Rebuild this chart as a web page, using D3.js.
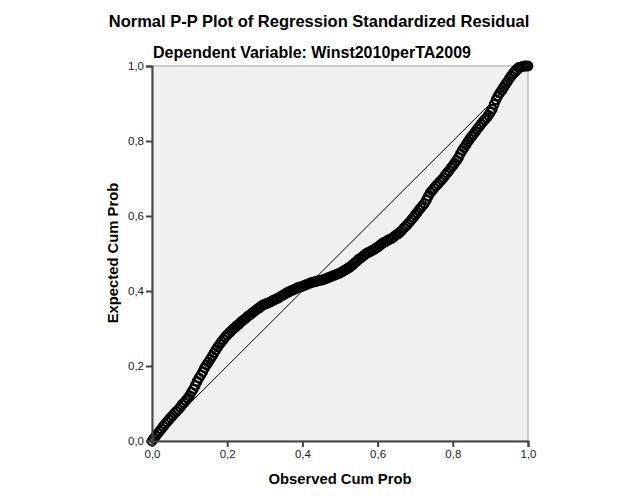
<!DOCTYPE html>
<html><head><meta charset="utf-8">
<script src="https://cdn.jsdelivr.net/npm/d3@7"></script>
<style>body{margin:0;background:#fff;} text{font-family:Arial,"Liberation Sans",sans-serif;}</style>
</head><body>
<svg id="chart" width="626" height="501"></svg>
<script>
const title = "Normal P-P Plot of Regression Standardized Residual";
const subtitle = "Dependent Variable: Winst2010perTA2009";
const xTitle = "Observed Cum Prob";
const yTitle = "Expected Cum Prob";
const tickValues = [0, 0.2, 0.4, 0.6, 0.8, 1.0];
const tickLabels = ["0,0", "0,2", "0,4", "0,6", "0,8", "1,0"];
const observed = [
0.000,0.005,0.010,0.015,0.020,0.025,0.030,0.035,0.040,0.045,
0.050,0.055,0.060,0.065,0.070,0.075,0.080,0.085,0.090,0.095,
0.100,0.105,0.110,0.115,0.120,0.125,0.130,0.135,0.140,0.145,
0.150,0.155,0.160,0.165,0.170,0.175,0.180,0.185,0.190,0.195,
0.200,0.205,0.210,0.215,0.220,0.225,0.230,0.235,0.240,0.245,
0.250,0.255,0.260,0.265,0.270,0.275,0.280,0.285,0.290,0.295,
0.300,0.305,0.310,0.315,0.320,0.325,0.330,0.335,0.340,0.345,
0.350,0.355,0.360,0.365,0.370,0.375,0.380,0.385,0.390,0.395,
0.400,0.405,0.410,0.415,0.420,0.425,0.430,0.435,0.440,0.445,
0.450,0.455,0.460,0.465,0.470,0.475,0.480,0.485,0.490,0.495,
0.500,0.505,0.510,0.515,0.520,0.525,0.530,0.535,0.540,0.545,
0.550,0.555,0.560,0.565,0.570,0.575,0.580,0.585,0.590,0.595,
0.600,0.605,0.610,0.615,0.620,0.625,0.630,0.635,0.640,0.645,
0.650,0.655,0.660,0.665,0.670,0.675,0.680,0.685,0.690,0.695,
0.700,0.705,0.710,0.715,0.720,0.725,0.730,0.735,0.740,0.745,
0.750,0.755,0.760,0.765,0.770,0.775,0.780,0.785,0.790,0.795,
0.800,0.805,0.810,0.815,0.820,0.825,0.830,0.835,0.840,0.845,
0.850,0.855,0.860,0.865,0.870,0.875,0.880,0.885,0.890,0.895,
0.900,0.905,0.910,0.915,0.920,0.925,0.930,0.935,0.940,0.945,
0.950,0.955,0.960,0.965,0.970,0.975,0.980,0.985,0.990,0.995,
1.000];
const expected = [
0.000,0.007,0.013,0.020,0.026,0.032,0.039,0.045,0.051,0.057,
0.063,0.068,0.074,0.079,0.084,0.090,0.097,0.102,0.108,0.114,
0.121,0.130,0.138,0.148,0.159,0.168,0.176,0.185,0.195,0.203,
0.210,0.218,0.226,0.235,0.243,0.251,0.258,0.265,0.271,0.278,
0.283,0.288,0.293,0.298,0.302,0.307,0.311,0.316,0.320,0.324,
0.328,0.333,0.336,0.340,0.344,0.348,0.352,0.355,0.359,0.363,
0.365,0.367,0.369,0.371,0.374,0.376,0.379,0.381,0.384,0.387,
0.390,0.393,0.396,0.398,0.401,0.403,0.405,0.408,0.410,0.411,
0.413,0.415,0.417,0.419,0.421,0.423,0.424,0.425,0.427,0.428,
0.429,0.430,0.432,0.434,0.436,0.438,0.440,0.442,0.444,0.446,
0.448,0.451,0.454,0.457,0.460,0.463,0.467,0.471,0.476,0.480,
0.485,0.488,0.492,0.496,0.500,0.503,0.505,0.508,0.510,0.514,
0.517,0.521,0.525,0.529,0.531,0.534,0.537,0.539,0.542,0.546,
0.550,0.553,0.557,0.562,0.568,0.573,0.578,0.584,0.590,0.596,
0.603,0.609,0.616,0.622,0.628,0.634,0.643,0.653,0.662,0.668,
0.674,0.680,0.685,0.691,0.696,0.702,0.709,0.715,0.721,0.728,
0.734,0.741,0.748,0.756,0.766,0.775,0.782,0.790,0.798,0.805,
0.812,0.818,0.825,0.832,0.838,0.845,0.851,0.857,0.862,0.869,
0.877,0.885,0.898,0.910,0.920,0.928,0.935,0.943,0.951,0.958,
0.966,0.973,0.980,0.986,0.991,0.996,0.997,0.999,1.000,1.000,
1.000];

const svg = d3.select("#chart");
const pLeft = 152, pRight = 528, pTop = 66, pBottom = 441;
const x = d3.scaleLinear().domain([0, 1]).range([pLeft, pRight]);
const y = d3.scaleLinear().domain([0, 1]).range([pBottom, pTop]);

svg.append("rect").attr("x", pLeft).attr("y", pTop).attr("width", pRight - pLeft).attr("height", pBottom - pTop)
  .attr("fill", "#f0f0f0").attr("stroke", "#a0a0a0").attr("stroke-width", 1);

// diagonal reference line
svg.append("line").attr("x1", x(0)).attr("y1", y(0)).attr("x2", x(1)).attr("y2", y(1))
  .attr("stroke", "#000").attr("stroke-width", 1);

// points
svg.append("g").selectAll("circle").data(observed).join("circle")
  .attr("cx", (d) => x(d)).attr("cy", (d, i) => y(expected[i]))
  .attr("r", 4.3).attr("fill", "none").attr("stroke", "#000").attr("stroke-width", 2.2);

const fmt = (d) => tickLabels[tickValues.indexOf(d)];
const xAxis = svg.append("g").attr("transform", `translate(0,${pBottom})`)
  .call(d3.axisBottom(x).tickValues(tickValues).tickFormat(fmt).tickSize(6).tickPadding(3));
const yAxis = svg.append("g").attr("transform", `translate(${pLeft},0)`)
  .call(d3.axisLeft(y).tickValues(tickValues).tickFormat(fmt).tickSize(6).tickPadding(2));
[xAxis, yAxis].forEach(a => {
  a.select(".domain").attr("stroke", "#444").attr("stroke-width", 2);
  a.selectAll(".tick line").attr("stroke", "#444").attr("stroke-width", 2);
  a.selectAll(".tick text").attr("font-size", 11.5).attr("fill", "#222")
    .style("font-family", "Arial, 'Liberation Sans', sans-serif");
});

svg.append("text").attr("x", 319).attr("y", 27).attr("text-anchor", "middle")
  .attr("font-size", 16.5).attr("font-weight", "bold").attr("fill", "#000").text(title);
svg.append("text").attr("x", 312).attr("y", 58).attr("text-anchor", "middle")
  .attr("font-size", 16).attr("font-weight", "bold").attr("fill", "#000").text(subtitle);
svg.append("text").attr("x", 340).attr("y", 484).attr("text-anchor", "middle")
  .attr("font-size", 14.8).attr("font-weight", "bold").attr("fill", "#000").text(xTitle);
svg.append("text").attr("transform", "translate(118,253) rotate(-90)").attr("text-anchor", "middle")
  .attr("font-size", 14.8).attr("font-weight", "bold").attr("fill", "#000").text(yTitle);
</script>
</body></html>
